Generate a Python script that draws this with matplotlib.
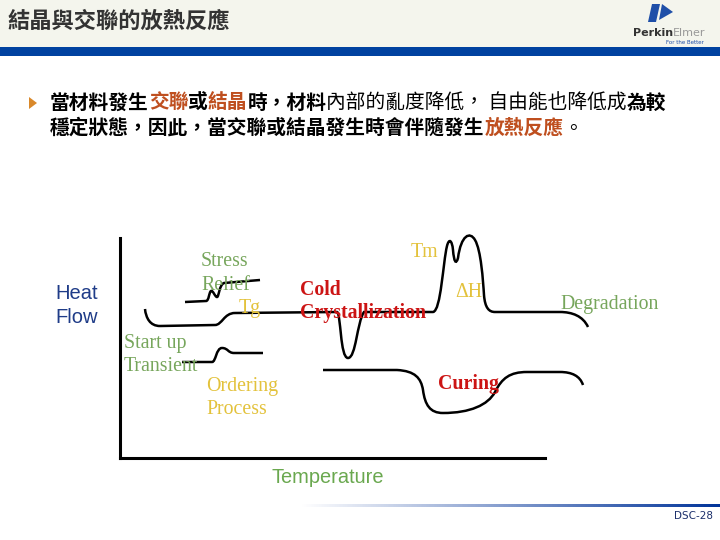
import numpy as np
import matplotlib.pyplot as plt
from matplotlib.path import Path
from matplotlib.patches import PathPatch, Polygon, Rectangle

plt.rcParams['font.family'] = ['Noto Sans CJK TC', 'DejaVu Sans']

# slide text
title = "結晶與交聯的放熱反應"
orange = '#bf4f1f'
bullet_line1 = [("當材料發生", 'black', 'bold'), ("交聯", orange, 'bold'), ("或", 'black', 'bold'),
                ("結晶", orange, 'bold'), ("時，材料", 'black', 'bold'),
                ("內部的亂度降低， 自由能也降低成", 'black', 'normal'), ("為較", 'black', 'bold')]
bullet_line2 = [("穩定狀態，因此，當交聯或結晶發生時會伴隨發生", 'black', 'bold'),
                ("放熱反應", orange, 'bold'), ("。", 'black', 'normal')]
page_label = "DSC-28"

# DSC sketch curves (temperature -> right, heat flow -> down)
# each entry: ('M'|'L', pt) or ('C', ctrl1, ctrl2, end)
stress_relief = [('M', (185, 302)), ('L', (206, 301)),
                 ('C', (209, 301), (209, 292), (211, 291)),
                 ('C', (213, 290), (215, 297), (217, 297)),
                 ('C', (219, 297), (219, 285), (224, 283)),
                 ('L', (260, 280))]
main_trace = [('M', (145, 309)),
              ('C', (146, 318), (150, 326), (160, 326)),
              ('L', (215, 325)),
              ('C', (222, 325), (224, 313), (235, 313)),
              ('L', (337, 312)),
              ('C', (341, 313), (340, 358), (348, 358)),
              ('C', (356, 358), (357, 322), (364, 312)),
              ('L', (433, 312)),
              ('C', (441, 311), (443, 262), (447, 246)),
              ('C', (449, 238), (452, 240), (453, 250)),
              ('C', (454, 262), (456, 265), (458, 258)),
              ('C', (461, 235), (470, 231), (475, 240)),
              ('C', (481, 250), (483, 280), (484, 295)),
              ('C', (485, 308), (489, 312), (495, 312)),
              ('L', (560, 312)),
              ('C', (572, 312), (583, 316), (588, 327))]
startup = [('M', (182, 362)), ('L', (212, 362)),
           ('C', (216, 362), (216, 348), (222, 348)),
           ('C', (228, 348), (228, 353), (234, 353)),
           ('L', (263, 353))]
curing = [('M', (323, 370)), ('L', (397, 370)),
          ('C', (415, 371), (421, 378), (423, 390)),
          ('C', (425, 405), (430, 413), (443, 413)),
          ('C', (470, 413), (488, 405), (495, 392)),
          ('C', (502, 378), (510, 372), (527, 372)),
          ('L', (560, 372)),
          ('C', (572, 372), (580, 376), (583, 385))]
curves = [stress_relief, main_trace, startup, curing]

green = '#77a65c'
yellow = '#e3c23c'
red = '#cc1414'
# label, x, baseline, colour, bold
labels = [("Stress", 201, 266, green, False), ("Relief", 201, 290, green, False),
          ("Tg", 239, 313, yellow, False),
          ("Cold", 300, 295, red, True), ("Crystallization", 300, 318, red, True),
          ("Tm", 411, 257, yellow, False), ("ΔH", 455, 297, yellow, False),
          ("Degradation", 560, 309, green, False),
          ("Start up", 124, 348, green, False), ("Transient", 124, 371, green, False),
          ("Ordering", 206, 391, yellow, False), ("Process", 206, 414, yellow, False),
          ("Curing", 438, 389, red, True)]


def make_path(segs):
    verts, codes = [], []
    for seg in segs:
        kind = seg[0]
        if kind == 'M':
            codes.append(Path.MOVETO)
        elif kind == 'L':
            codes.append(Path.LINETO)
        else:
            codes += [Path.CURVE4] * 3
        verts += list(seg[1:])
    return Path(verts, codes)


fig = plt.figure(figsize=(7.2, 5.4), dpi=100)
ax = fig.add_axes([0, 0, 1, 1])
ax.set_xlim(0, 720)
ax.set_ylim(540, 0)
ax.axis('off')

# header
ax.add_patch(Rectangle((0, 0), 720, 47, color='#f4f5ed', lw=0))
ax.add_patch(Rectangle((0, 47), 720, 9, color='#0042a0', lw=0))
ax.text(7, 21, title, fontsize=16, fontweight='bold', color='#333333', va='center')

# logo
ax.add_patch(Polygon([(652, 4), (660, 4), (656, 22), (648, 22)], color='#1f4fa8', lw=0))
ax.add_patch(Polygon([(662, 4), (673, 12), (659, 20)], color='#1f4fa8', lw=0))
t = ax.text(633, 33, "Perkin", fontsize=8, fontweight='bold', color='#333333', va='center',
            family='DejaVu Sans')
r = fig.canvas.get_renderer()
ax.text(633 + t.get_window_extent(r).width, 33, "Elmer", fontsize=8, color='#999999',
        va='center', family='DejaVu Sans')
ax.text(704, 42, "For the Better", fontsize=4, color='#1f4fa8', va='center', ha='right',
        family='DejaVu Sans')

# bullet
ax.add_patch(Polygon([(29, 97), (37, 103), (29, 109)], color='#d9882a', lw=0))
for y, runs in [(103, bullet_line1), (128, bullet_line2)]:
    x = 50
    for s, c, w in runs:
        t = ax.text(x, y, s, fontsize=14.2, color=c, fontweight=w, va='center')
        x += t.get_window_extent(r).width

# footer bar (gradient) and page label
grad = np.zeros((1, 256, 4))
grad[..., 1] = 0.2
grad[..., 2] = 0.6
grad[..., 3] = np.linspace(0, 1, 256)
ax.imshow(grad, extent=(300, 720, 507, 504), aspect='auto', zorder=1)
ax.set_xlim(0, 720)
ax.set_ylim(540, 0)
ax.text(713, 516, page_label, fontsize=7.5, color='#1c2f6b', ha='right', va='center',
        family='DejaVu Sans')

# DSC sketch
dsc = fig.add_axes([120 / 720, (540 - 458) / 540, (545 - 120) / 720, (458 - 238) / 540])
dsc.set_xlim(120, 545)
dsc.set_ylim(458, 238)
dsc.patch.set_alpha(0)
for side in ['top', 'right']:
    dsc.spines[side].set_visible(False)
for side in ['left', 'bottom']:
    dsc.spines[side].set_linewidth(2.2)
dsc.set_xticks([])
dsc.set_yticks([])

for segs in curves:
    dsc.add_patch(PathPatch(make_path(segs), fill=False, lw=1.8, ec='black', clip_on=False))

for s, x, y, c, b in labels:
    dsc.text(x, y, s, fontsize=14.3, color=c, fontweight='bold' if b else 'normal',
             family='Liberation Serif', va='baseline')

dsc.text(55, 299, "Heat", fontsize=14.5, color='#1f3c88', family='Liberation Sans', va='baseline')
dsc.text(55, 323, "Flow", fontsize=14.5, color='#1f3c88', family='Liberation Sans', va='baseline')
dsc.text(328, 483, "Temperature", fontsize=14.4, color='#6aa84f', family='Liberation Sans',
         va='baseline', ha='center')

fig.savefig('out.png', dpi=100)
